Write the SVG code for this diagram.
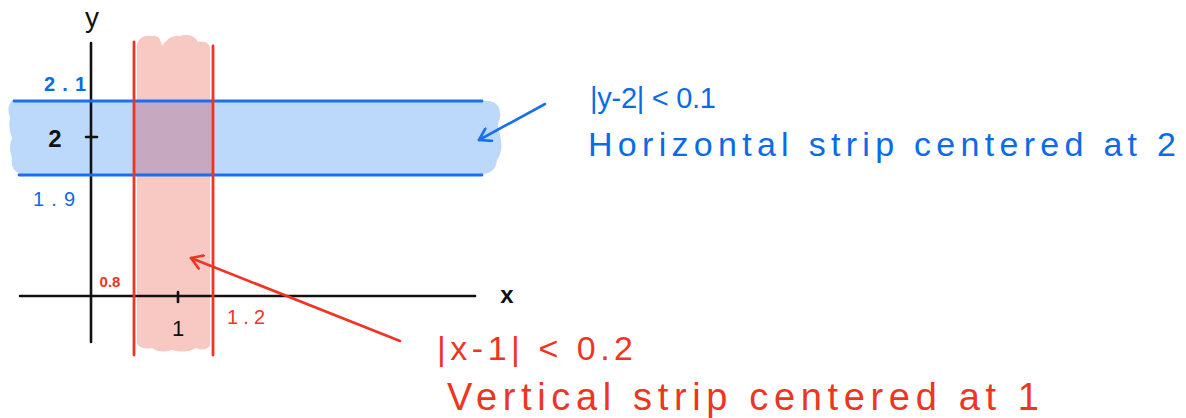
<svg xmlns="http://www.w3.org/2000/svg" width="1186" height="418" viewBox="0 0 1186 418">
<defs>
<style>
.ax{stroke:#111;stroke-width:2.6;fill:none;stroke-linecap:round}
.bl{stroke:#1a6ef0;stroke-width:2.8;fill:none;stroke-linecap:round}
.rl{stroke:#ee3524;stroke-width:2.8;fill:none;stroke-linecap:round}
.tb{fill:#0a6be8;font-family:"Liberation Sans",sans-serif}
.tr{fill:#ee3524;font-family:"Liberation Sans",sans-serif}
.tk{fill:#111;font-family:"Liberation Sans",sans-serif}
</style>
<marker id="ab" viewBox="0 0 16 16" refX="14" refY="8" markerWidth="16" markerHeight="16" markerUnits="userSpaceOnUse" orient="auto"><path d="M3,1 L14,8 L3,15" fill="none" stroke="#1a6ef0" stroke-width="2.6" stroke-linecap="round" stroke-linejoin="round"/></marker>
<marker id="ar" viewBox="0 0 16 16" refX="14" refY="8" markerWidth="16" markerHeight="16" markerUnits="userSpaceOnUse" orient="auto"><path d="M3,1 L14,8 L3,15" fill="none" stroke="#ee3524" stroke-width="2.6" stroke-linecap="round" stroke-linejoin="round"/></marker>
</defs>
<rect width="1186" height="418" fill="#fff"/>
<g id="blue-strip">
<path d="M12,101 L490,101 Q502,104 500,118 Q496,125 500,135 Q504,150 497,160 Q496,172 484,174 L20,174 Q10,170 12,158 Q8,148 12,138 Q8,128 10,118 Q6,106 12,101 Z" fill="#bcd9fb"/>
</g>
<g id="red-strip">
<path d="M137,44 Q140,34 152,36 Q160,34 162,46 Q170,34 180,36 Q192,32 198,42 Q208,40 210,48 L210,346 Q204,352 196,348 Q186,354 172,350 Q160,354 152,348 Q142,350 137,344 Z" fill="#f8c8c2"/>
<rect x="135" y="101" width="78" height="73" fill="#c6a9c1"/>
</g>
<g id="axes">
<line class="ax" x1="91" y1="43" x2="91" y2="342"/>
<line class="ax" x1="20" y1="296" x2="475" y2="296"/>
<line class="ax" x1="86" y1="137" x2="97" y2="137"/>
<line class="ax" x1="178" y1="292" x2="178" y2="302"/>
<text class="tk" x="92" y="27" font-size="28" text-anchor="middle">y</text>
<text class="tk" x="507" y="303" font-size="24" text-anchor="middle" font-weight="bold">x</text>
<text class="tk" x="55" y="147" font-size="24" text-anchor="middle" font-weight="bold">2</text>
<text class="tk" x="178" y="336" font-size="22" text-anchor="middle">1</text>
</g>
<g id="blue-lines">
<line class="bl" x1="14" y1="101" x2="482" y2="101"/>
<line class="bl" x1="19" y1="175" x2="482" y2="175"/>
<text class="tb" x="65" y="91" font-size="20" text-anchor="middle" font-weight="bold" textLength="42" lengthAdjust="spacing">2.1</text>
<text class="tb" x="54" y="206" font-size="20" text-anchor="middle" textLength="42" lengthAdjust="spacing">1.9</text>
</g>
<g id="red-lines">
<line class="rl" x1="134" y1="42" x2="134" y2="355"/>
<line class="rl" x1="213" y1="46" x2="213" y2="355"/>
<text class="tr" x="110" y="287" font-size="15" text-anchor="middle" font-weight="bold">0.8</text>
<text class="tr" x="246" y="324" font-size="20" text-anchor="middle" textLength="38" lengthAdjust="spacing">1.2</text>
</g>
<g id="connectors">
<line x1="545" y1="104" x2="479" y2="140" stroke="#1a6ef0" stroke-width="2.6" stroke-linecap="round" marker-end="url(#ab)"/>
<line x1="400" y1="341" x2="191" y2="258" stroke="#ee3524" stroke-width="2.6" stroke-linecap="round" marker-end="url(#ar)"/>
</g>
<g id="blue-label">
<text class="tb" x="590" y="108" font-size="29" textLength="126" lengthAdjust="spacing">|y-2| &lt; 0.1</text>
<text class="tb" x="588" y="156" font-size="34" textLength="588" lengthAdjust="spacing">Horizontal strip centered at 2</text>
</g>
<g id="red-label">
<text class="tr" x="437" y="360" font-size="34" textLength="196" lengthAdjust="spacing">|x-1| &lt; 0.2</text>
<text class="tr" x="447" y="410" font-size="38" textLength="592" lengthAdjust="spacing">Vertical strip centered at 1</text>
</g>
</svg>
